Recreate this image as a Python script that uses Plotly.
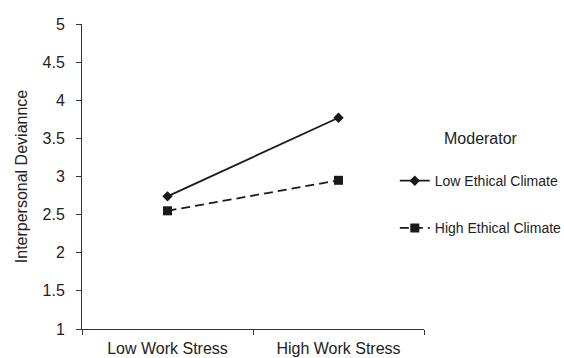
import plotly.graph_objects as go

categories = ["Low Work Stress", "High Work Stress"]
low_ethical = [2.74, 3.77]
high_ethical = [2.55, 2.95]
series_names = ["Low Ethical Climate", "High Ethical Climate"]
y_ticks = [1, 1.5, 2, 2.5, 3, 3.5, 4, 4.5, 5]
y_tick_text = ["1", "1.5", "2", "2.5", "3", "3.5", "4", "4.5", "5"]

font_family = "Liberation Sans, Arial, sans-serif"
ink = "#1a1a1a"

fig = go.Figure()
fig.add_trace(go.Scatter(
    x=categories, y=low_ethical, name=series_names[0], mode="lines+markers",
    legendgroup="a",
    line=dict(color=ink, width=1.8),
    marker=dict(symbol="diamond", size=8, color=ink),
))
fig.add_trace(go.Scatter(
    x=categories, y=high_ethical, name=series_names[1], mode="lines+markers",
    legendgroup="b",
    line=dict(color=ink, width=1.8, dash="9px,5px"),
    marker=dict(symbol="square", size=9, color=ink),
))

fig.update_layout(
    width=564, height=358,
    margin=dict(l=82, r=140, t=24, b=29, autoexpand=False),
    paper_bgcolor="white", plot_bgcolor="white",
    font=dict(family=font_family, size=16, color="#222"),
    showlegend=True,
    legend=dict(
        xref="container", yref="container",
        x=0.70, xanchor="left", y=0.655, yanchor="top",
        title=dict(text="Moderator<br> ", side="top center", font=dict(size=16)),
        font=dict(size=14, color="#222"),
        tracegroupgap=26, itemwidth=30,
        bgcolor="rgba(0,0,0,0)",
    ),
    xaxis=dict(
        type="category", range=[-0.5, 1.5], tickson="boundaries",
        showline=True, linecolor="#333", linewidth=1,
        ticks="outside", ticklen=5, tickcolor="#333",
        showgrid=False, zeroline=False, automargin=False,
        tickfont=dict(size=16), ticklabelstandoff=5,
    ),
    yaxis=dict(
        range=[1, 5], tickvals=y_ticks, ticktext=y_tick_text,
        showline=True, linecolor="#333", linewidth=1,
        ticks="outside", ticklen=5, tickcolor="#333",
        showgrid=False, zeroline=False, automargin=False,
        title=dict(text="Interpersonal Deviannce", font=dict(size=16), standoff=10),
        tickfont=dict(size=16), ticklabelstandoff=8,
    ),
)

fig.write_html("out.html")
